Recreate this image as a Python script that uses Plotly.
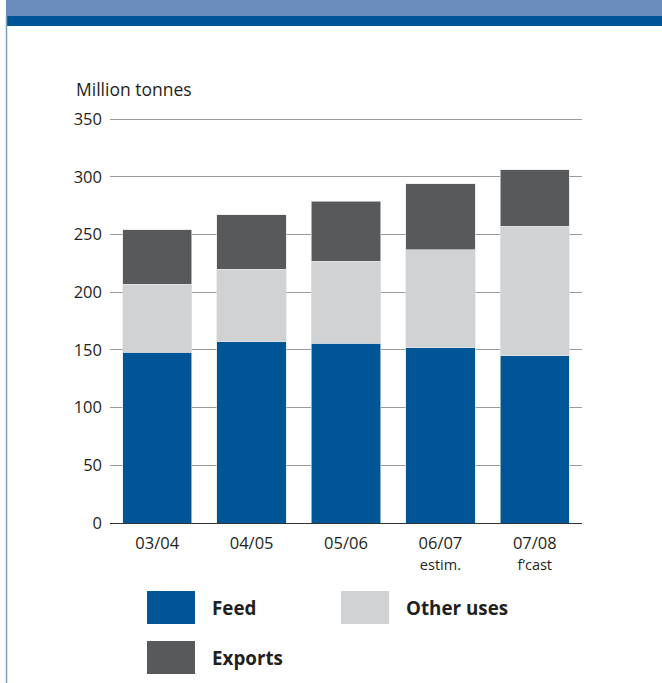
import plotly.graph_objects as go

# Season labels and sub-labels
seasons = ["03/04", "04/05", "05/06", "06/07", "07/08"]
season_notes = ["", "", "", "estim.", "f\u2019cast"]

# Million tonnes per use
feed = [148, 157, 156, 152, 145]
other_uses = [59, 63, 71, 85, 112]
exports = [47, 47, 52, 57, 49]

series_names = ["Feed", "Other uses", "Exports"]
series_colors = ["#005596", "#d1d2d4", "#58595b"]

y_ticks = [0, 50, 100, 150, 200, 250, 300, 350]
y_max = 351

W, H = 662, 683
L, R, T, B = 110, 582, 118, 523   # plot area in pixels
PW, PH = R - L, B - T


def px(x):
    return (x - L) / PW


def py(y):
    return (B - y) / PH


FONT = "Open Sans"
TEXT = "#231f20"

tick_text = [
    s if not n else f"{s}<br><span style='font-size:14.5px'>{n}</span>"
    for s, n in zip(seasons, season_notes)
]

fig = go.Figure()
for name, vals, col in zip(series_names, [feed, other_uses, exports], series_colors):
    fig.add_trace(go.Bar(
        x=seasons, y=vals, name=name,
        marker=dict(color=col, line=dict(color="rgba(225,228,232,0.9)", width=0.7)),
        showlegend=False,
    ))

shapes = [
    # header bands
    dict(type="rect", xref="paper", yref="paper", x0=px(6), x1=px(662), y0=py(0), y1=py(16),
         fillcolor="#6a8cbc", line=dict(width=0), layer="below"),
    dict(type="rect", xref="paper", yref="paper", x0=px(6), x1=px(662), y0=py(16), y1=py(26),
         fillcolor="#005596", line=dict(width=0), layer="below"),
    # left rule
    dict(type="line", xref="paper", yref="paper", x0=px(6.5), x1=px(6.5), y0=py(16), y1=py(683),
         line=dict(color="#7f9cc4", width=1.5)),
]

annotations = [
    dict(text="Million tonnes", xref="paper", yref="paper", x=px(74), y=py(89),
         xanchor="left", yanchor="middle", showarrow=False,
         font=dict(family=FONT, size=17.5, color=TEXT)),
]

# custom legend with large swatches
legend_pos = [(147, 591), (341, 591), (147, 641)]
for name, col, (lx, ly) in zip(series_names, series_colors, legend_pos):
    shapes.append(dict(type="rect", xref="paper", yref="paper",
                       x0=px(lx), x1=px(lx + 48), y0=py(ly), y1=py(ly + 33),
                       fillcolor=col, line=dict(width=0)))
    annotations.append(dict(text=f"<b>{name}</b>", xref="paper", yref="paper",
                            x=px(lx + 63), y=py(ly + 17), xanchor="left", yanchor="middle",
                            showarrow=False, font=dict(family=FONT, size=18.8, color=TEXT)))

fig.update_layout(
    width=W, height=H,
    margin=dict(l=L, r=W - R, t=T, b=H - B, pad=0),
    barmode="stack", bargap=0.265,
    plot_bgcolor="white", paper_bgcolor="white",
    font=dict(family=FONT, color=TEXT),
    shapes=shapes, annotations=annotations,
    xaxis=dict(
        tickmode="array", tickvals=seasons, ticktext=tick_text,
        tickfont=dict(family=FONT, size=16.5, color=TEXT),
        showgrid=False, showline=False, zeroline=False, ticks="", ticklabelstandoff=8,
    ),
    yaxis=dict(
        range=[0, y_max], tickvals=y_ticks, ticks="", ticklabelstandoff=7,
        tickfont=dict(family=FONT, size=16.5, color=TEXT),
        showgrid=True, gridcolor="#9a9a9a", gridwidth=1,
        zeroline=True, zerolinecolor="#333333", zerolinewidth=1.2,
        showline=False,
    ),
)

fig.write_html("out.html")
